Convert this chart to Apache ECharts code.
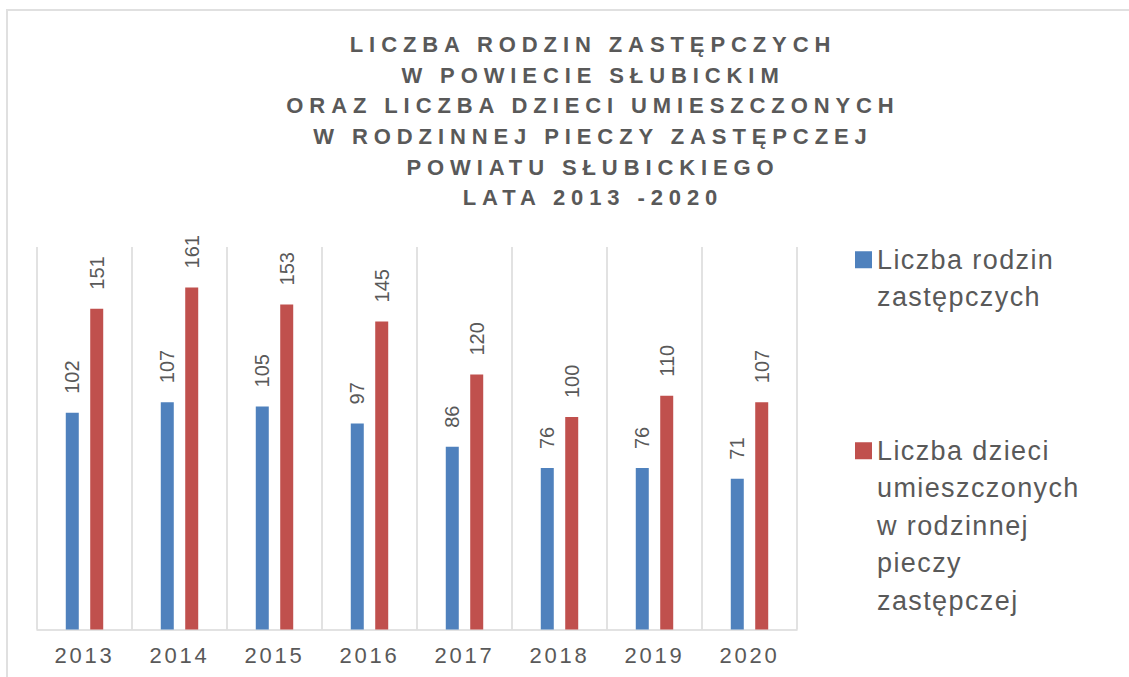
<!DOCTYPE html>
<html>
<head>
<meta charset="utf-8">
<script src="https://cdn.jsdelivr.net/npm/echarts@6/dist/echarts.min.js"></script>
<style>
  html, body { margin: 0; padding: 0; background: #fff; }
  #chart { position: absolute; left: 0; top: 0; width: 1129px; height: 677px; }
  #frame { position: absolute; left: 6px; top: 9px; width: 1130px; height: 680px;
           border-left: 2px solid #e0e0e0; border-top: 2px solid #e0e0e0; pointer-events: none; }
  /* Excel-like letter spacing (svg renderer) */
  #chart text[style*="22px"] { letter-spacing: 2.8px; }
  #chart text[style*="27px"] { letter-spacing: 1.4px; }
  #chart text[style*="bold"] { letter-spacing: 5.9px; }
</style>
</head>
<body>
<div id="chart"></div>
<div id="frame"></div>
<script>
// dane
var years = ['2013', '2014', '2015', '2016', '2017', '2018', '2019', '2020'];
var rodziny = [102, 107, 105, 97, 86, 76, 76, 71];
var dzieci = [151, 161, 153, 145, 120, 100, 110, 107];
var seriesNames = ['Liczba rodzin zastępczych', 'Liczba dzieci umieszczonych w rodzinnej pieczy zastępczej'];
var legendLabels = ['Liczba rodzin\nzastępczych', 'Liczba dzieci\numieszczonych\nw rodzinnej\npieczy\nzastępczej'];
var titleLines = [
  'LICZBA RODZIN ZASTĘPCZYCH',
  'W POWIECIE SŁUBICKIM',
  'ORAZ LICZBA DZIECI UMIESZCZONYCH',
  'W RODZINNEJ PIECZY ZASTĘPCZEJ',
  'POWIATU SŁUBICKIEGO',
  'LATA 2013 -2020'
];

var gray = '#595959';
var lineH = 37.5;

// ikonka legendy: kwadrat przy pierwszej linii tekstu
function legendIcon(lines) {
  var h = lines * lineH;
  return 'path://M0,10.25H17V27.25H0Z M0,0H0.01V0.01H0Z M0,' + h + 'H0.01V' + (h - 0.01) + 'H0Z';
}

var myChart = echarts.init(document.getElementById('chart'), null, { renderer: 'svg' });

var option = {
  backgroundColor: '#fff',
  animation: false,
  title: {
    text: titleLines.join('\n'),
    left: 593,
    top: 29,
    textAlign: 'center',
    padding: 0,
    textStyle: {
      fontFamily: 'Liberation Sans, Arial, sans-serif',
      fontWeight: 'bold',
      fontSize: 22,
      lineHeight: 30.7,
      color: gray
    }
  },
  legend: [{
    data: [seriesNames[0]],
    orient: 'vertical',
    left: 855,
    top: 241,
    padding: 0,
    itemWidth: 17,
    itemHeight: 2 * lineH,
    icon: legendIcon(2),
    formatter: function () { return legendLabels[0]; },
    textStyle: { fontFamily: 'Liberation Sans, Arial, sans-serif', fontSize: 27, lineHeight: lineH, color: gray }
  }, {
    data: [seriesNames[1]],
    orient: 'vertical',
    left: 855,
    top: 432,
    padding: 0,
    itemWidth: 17,
    itemHeight: 5 * lineH,
    icon: legendIcon(5),
    formatter: function () { return legendLabels[1]; },
    textStyle: { fontFamily: 'Liberation Sans, Arial, sans-serif', fontSize: 27, lineHeight: lineH, color: gray }
  }],
  grid: {
    left: 37,
    right: 332,
    top: 247,
    bottom: 47.5,
    containLabel: false,
    outerBoundsMode: 'none'
  },
  xAxis: {
    type: 'category',
    data: years,
    axisTick: { show: false },
    axisLine: { lineStyle: { color: '#d9d9d9', width: 1.5 } },
    splitLine: { show: true, lineStyle: { color: '#d9d9d9', width: 1.5 } },
    axisLabel: {
      fontFamily: 'Liberation Sans, Arial, sans-serif',
      fontSize: 22,
      color: gray,
      margin: 15
    }
  },
  yAxis: {
    type: 'value',
    min: 0,
    max: 180,
    show: false,
    splitLine: { show: false }
  },
  series: [{
    name: seriesNames[0],
    type: 'bar',
    data: rodziny,
    barWidth: 13,
    barGap: '88%',
    itemStyle: { color: '#4f81bd' },
    label: {
      show: true,
      position: 'top',
      rotate: 90,
      align: 'left',
      verticalAlign: 'middle',
      distance: 19,
      fontFamily: 'Liberation Sans, Arial, sans-serif',
      fontSize: 20,
      color: gray
    }
  }, {
    name: seriesNames[1],
    type: 'bar',
    data: dzieci,
    barWidth: 13,
    barGap: '88%',
    itemStyle: { color: '#c0504d' },
    label: {
      show: true,
      position: 'top',
      rotate: 90,
      align: 'left',
      verticalAlign: 'middle',
      distance: 19,
      fontFamily: 'Liberation Sans, Arial, sans-serif',
      fontSize: 20,
      color: gray
    }
  }]
};

myChart.setOption(option);
</script>
</body>
</html>
